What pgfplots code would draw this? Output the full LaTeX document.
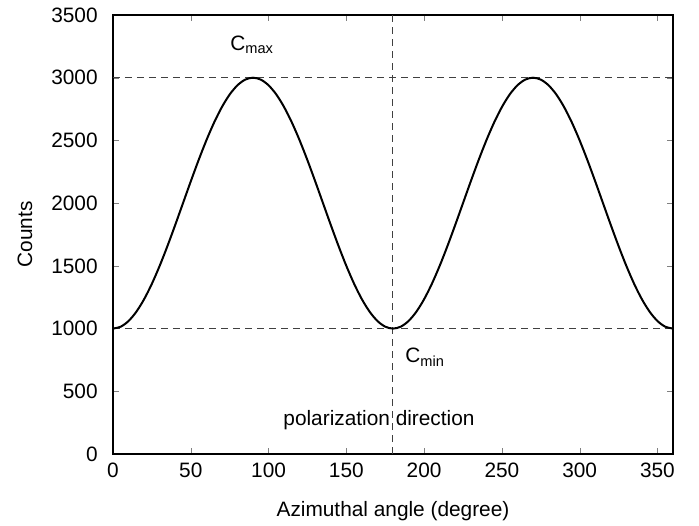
\documentclass[border=0pt]{standalone}
\usepackage{pgfplots}
\pgfplotsset{compat=1.18}
\usepackage{fontspec}
\setmainfont{Liberation Sans}
\newcommand{\bigf}{\fontsize{12.5}{15}\selectfont}

\begin{document}
\begin{tikzpicture}
\begin{axis}[
    scale only axis,
    width=336pt, height=263.4pt,
    xmin=0, xmax=360, ymin=0, ymax=3500,
    xtick={0,50,...,350}, ytick={0,500,...,3500},
    tick align=inside,
    tick pos=both,
    major tick length=3.5pt,
    /pgf/number format/assume math mode=true,
    /pgf/number format/set thousands separator={},
    ticklabel style={font=\bigf},
    yticklabel style={inner sep=0pt, anchor=east, xshift=-9pt},
    xticklabel style={inner sep=0pt, anchor=center, yshift=-9.6pt},
    label style={font=\bigf},
    xlabel={Azimuthal angle (degree)},
    ylabel={Counts},
    xlabel style={at={([yshift=-34.2pt]rel axis cs:0.5,0)}, anchor=center},
    ylabel style={at={([xshift=-52.8pt]rel axis cs:0,0.5)}, anchor=center},
    axis line style={line width=0.8pt},
    clip=false,
]
\addplot[black!75, line width=0.6pt, dash pattern=on 4.2pt off 3pt] coordinates {(0,1000)(360,1000)};
\addplot[black!75, line width=0.6pt, dash pattern=on 4.2pt off 3pt] coordinates {(0,3000)(360,3000)};
\addplot[black!75, line width=0.6pt, dash pattern=on 4.2pt off 3pt] coordinates {(180,0)(180,3500)};

\addplot[black, line width=1.2pt, smooth] table {
x y
0 1000
5 1015.19
10 1060.31
15 1133.97
20 1233.96
25 1357.21
30 1500
35 1657.98
40 1826.35
45 2000
50 2173.65
55 2342.02
60 2500
65 2642.79
70 2766.04
75 2866.03
80 2939.69
85 2984.81
90 3000
95 2984.81
100 2939.69
105 2866.03
110 2766.04
115 2642.79
120 2500
125 2342.02
130 2173.65
135 2000
140 1826.35
145 1657.98
150 1500
155 1357.21
160 1233.96
165 1133.97
170 1060.31
175 1015.19
180 1000
185 1015.19
190 1060.31
195 1133.97
200 1233.96
205 1357.21
210 1500
215 1657.98
220 1826.35
225 2000
230 2173.65
235 2342.02
240 2500
245 2642.79
250 2766.04
255 2866.03
260 2939.69
265 2984.81
270 3000
275 2984.81
280 2939.69
285 2866.03
290 2766.04
295 2642.79
300 2500
305 2342.02
310 2173.65
315 2000
320 1826.35
325 1657.98
330 1500
335 1357.21
340 1233.96
345 1133.97
350 1060.31
355 1015.19
360 1000
};

\node[font=\bigf] at (axis cs:171,271) {polarization direction};
\node[font=\bigf] at (axis cs:89.4,3261) {C\textsubscript{max}};
\node[font=\bigf] at (axis cs:200.6,773) {C\textsubscript{min}};
\coordinate (sw) at (rel axis cs:0,0);
\coordinate (ne) at (rel axis cs:1,1);
\end{axis}
\pgfresetboundingbox
\path[use as bounding box] ([shift={(-67.8pt,-43pt)}]sw) rectangle ([shift={(15.6pt,9pt)}]ne);
\end{tikzpicture}
\end{document}
